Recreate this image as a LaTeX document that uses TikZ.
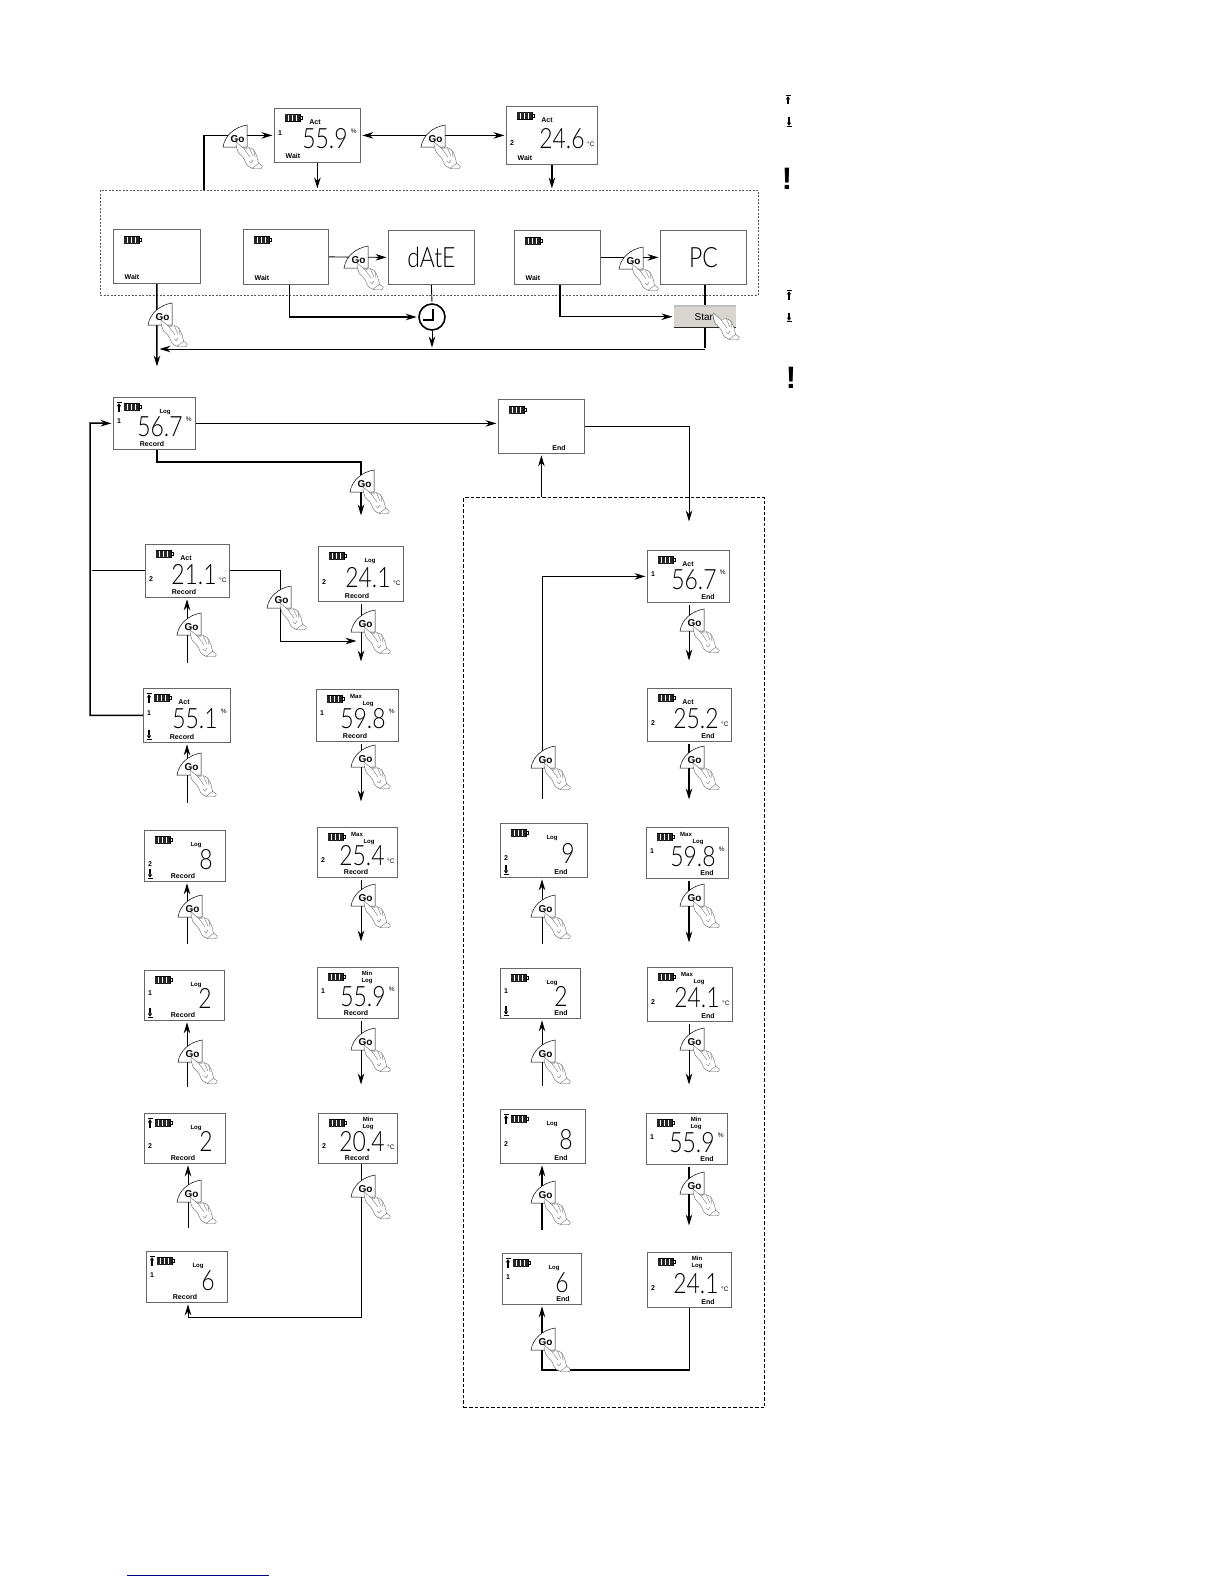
\documentclass[tikz,border=0pt]{standalone}
\usepackage{fontspec}
\setmainfont{Liberation Sans}
\newfontfamily\lcdfont[FakeStretch=0.82]{Lato Light}
\usetikzlibrary{arrows.meta, backgrounds, calc}

\definecolor{framegray}{gray}{0.35}
\definecolor{startgray}{RGB}{216,212,208}
\definecolor{linkblue}{RGB}{0,0,128}

\tikzset{
  lcdface/.style={draw=black!60, fill=white, line width=.8pt, anchor=north west, inner sep=0pt},
  lcdbig/.style={font=\lcdfont\fontsize{28}{28}\selectfont},
  lcdnum/.style={lcdbig, anchor=base east, inner sep=0pt},
  lcdchan/.style={font=\bfseries\fontsize{7}{8}\selectfont, inner sep=0pt},
  lcdunit/.style={font=\fontsize{6.5}{7}\selectfont, inner sep=0pt},
  lcdtag/.style={font=\bfseries\fontsize{7}{8}\selectfont, inner sep=0pt},
  lcdsmall/.style={font=\bfseries\fontsize{6}{7}\selectfont, inner sep=0pt},
  gotext/.style={font=\bfseries\fontsize{10}{11}\selectfont, inner sep=0pt},
  warntext/.style={font=\bfseries\fontsize{31}{31}\selectfont, inner sep=0pt},
  flow/.style={line width=.9pt, shorten >=1.5pt},
  flowbold/.style={line width=1.5pt, shorten >=1.5pt},
  batt/.pic={
    \draw[line width=.4pt] (0,-3.5) rectangle (15.5,3.5);
    \draw[line width=.4pt] (15.5,-1.5) rectangle (17,1.5);
    \foreach \k in {0,1,2,3}
      \fill[black!85] (.4+\k*3.8,-3.5) rectangle ++(2.9,7);
  },
  holdup/.pic={
    \draw[line width=.8pt] (-2.5,-4.5) -- (2.5,-4.5);
    \fill (0,-3.8) -- (2.2,-.6) -- (-2.2,-.6) -- cycle;
    \fill (-.8,-.6) rectangle (.8,4.5);
  },
  holddown/.pic={
    \draw[line width=.8pt] (-2.5,4.5) -- (2.5,4.5);
    \fill (0,3.8) -- (2.2,.6) -- (-2.2,.6) -- cycle;
    \fill (-.8,.6) rectangle (.8,-4.5);
  },
  hand/.pic={
    \draw[draw=black!65, fill=white, line width=.35pt]
      plot[smooth cycle, tension=.4] coordinates {(-11,-4.7) (-3.3,1.3) (2.3,.7) (6.7,3) (10,9.7)
        (11.7,16.3) (15,18.7) (14.3,21.3) (5,21.3) (0,18) (-3.3,11.3) (-9,4.7)};
    \draw[draw=black!65, line width=.3pt] (-3.3,1.3) -- (3,10) (2.3,.7) -- (6,9) (6.7,3) -- (8,10)
      (2,14) -- (4,16) -- (6,13) (11.7,16.3) -- (5,21.3);
  },
  gobtn/.pic={
    \draw[fill=white, line width=.5pt] (-24,0) .. controls (-22,-12) and (-12,-20) .. (0,-22) -- (0,0) -- cycle;
    \node[gotext] (-label) at (-9.5,-7.5) {Go};
    \pic at (0,0) {hand};
  },
}

\newcommand{\unitpct}[1]{\node[lcdunit] (#1-unit) at ($(#1.east)+(-7,-4)$) {\%};}
\newcommand{\unitdeg}[1]{\node[lcdunit] (#1-unit) at ($(#1.east)+(-7,9)$) {°C};}
\newcommand{\nounit}[1]{}
\newcommand{\modeWait}[1]{\node[lcdtag] (#1-mode) at ($(#1.south west)+(19,-7)$) {Wait};}
\newcommand{\modeRec}[1]{\node[lcdtag] (#1-mode) at ($(#1.south west)+(39,-5.5)$) {Record};}
\newcommand{\modeEnd}[1]{\node[lcdtag] (#1-mode) at ($(#1.south west)+(61,-5.5)$) {End};}
\newcommand{\topAct}[1]{\node[lcdtag] (#1-top) at ($(#1.north west)+(41,14.5)$) {Act};}
\newcommand{\topLog}[1]{\node[lcdsmall] (#1-top) at ($(#1.north west)+(52,15)$) {Log};}
\newcommand{\topMax}[1]{\node[lcdsmall] (#1-top) at ($(#1.north west)+(40,7)$) {Max};
  \node[lcdsmall] (#1-log) at ($(#1.north west)+(52,15)$) {Log};}
\newcommand{\topMin}[1]{\node[lcdsmall] (#1-top) at ($(#1.north west)+(50,6)$) {Min};
  \node[lcdsmall] (#1-log) at ($(#1.north west)+(50,14)$) {Log};}

% name, corner, width, height, channel, reading, unit, mode, top label
\newcommand{\lcd}[9]{%
  \node[lcdface, minimum width=#3pt, minimum height=#4pt] (#1) at (#2) {};
  \pic at ($(#1.north west)+(11,10)$) {batt};
  \ifnum#5=1 \def\chany{-2}\else\def\chany{8}\fi
  \node[lcdchan] (#1-chan) at ($(#1.west)+(6,\chany)$) {#5};
  \node[lcdnum] (#1-num) at ($(#1.east)+(-13,13.5)$) {#6};
  #7{#1}
  #8{#1}
  #9{#1}
}
\newcommand{\emptylcd}[5]{%
  \node[lcdface, minimum width=#3pt, minimum height=#4pt] (#1) at (#2) {};
  \pic at ($(#1.north west)+(11,11)$) {batt};
  #5{#1}
}
\newcommand{\holdtop}[1]{\pic at ($(#1.north west)+(6,10)$) {holdup};}
\newcommand{\holdbot}[1]{\pic at ($(#1.south west)+(6,-8)$) {holddown};}

\begin{document}
\begin{tikzpicture}[x=1pt, y=-1pt, >={Stealth[length=11pt,width=6.5pt]}]
  \useasboundingbox (0,0) rectangle (1224,1584);

  % waiting
  \lcd{rhwait}{274,108}{86}{54}{1}{55.9}{\unitpct}{\modeWait}{\topAct}
  \lcd{tempwait}{506,106}{91}{58}{2}{24.6}{\unitdeg}{\modeWait}{\topAct}
  \emptylcd{waita}{113,229}{87}{54}{\modeWait}
  \emptylcd{waitb}{243,229}{85}{55}{\modeWait}
  \emptylcd{waitc}{514,230}{86}{54}{\modeWait}
  \node[lcdface, lcdbig, minimum width=86pt, minimum height=54pt] (date) at (388,230) {dAtE};
  \node[lcdface, lcdbig, minimum width=86pt, minimum height=54pt] (pc) at (660,230) {PC};
  \node[circle, draw, fill=white, line width=1.6pt, minimum size=26pt, inner sep=0pt] (clock) at (432,317) {};
  \draw[line width=1.4pt] ($(clock.center)+(1,-8)$) -- ($(clock.center)+(1,3)$) -- ($(clock.center)+(-9,3)$);
  \node[fill=startgray, minimum width=62pt, minimum height=21pt, anchor=north west, inner sep=0pt,
    font=\fontsize{10}{11}\selectfont] (start) at (674,306) {Start};
  \draw[line width=1.2pt, black!85] (start.south west) -- (start.south east);
  \draw[line width=1.4pt, black!25] (start.north west) -- (start.north east);

  % recording, left side
  \lcd{logrh}{113,397}{82}{52}{1}{56.7}{\unitpct}{\modeRec}{\topLog}
  \lcd{acttemp}{145,544}{84}{53}{2}{21.1}{\unitdeg}{\modeRec}{\topAct}
  \lcd{logtemp}{318,546}{85}{55}{2}{24.1}{\unitdeg}{\modeRec}{\topLog}
  \lcd{actrh}{143,688}{87}{54}{1}{55.1}{\unitpct}{\modeRec}{\topAct}
  \lcd{maxrh}{316,689}{82}{52}{1}{59.8}{\unitpct}{\modeRec}{\topMax}
  \lcd{counta}{144,830}{81}{51}{2}{8}{\nounit}{\modeRec}{\topLog}
  \lcd{maxtemp}{317,827}{80}{50}{2}{25.4}{\unitdeg}{\modeRec}{\topMax}
  \lcd{countb}{144,970}{80}{50}{1}{2}{\nounit}{\modeRec}{\topLog}
  \lcd{minrh}{317,967}{81}{51}{1}{55.9}{\unitpct}{\modeRec}{\topMin}
  \lcd{countc}{144,1113}{81}{50}{2}{2}{\nounit}{\modeRec}{\topLog}
  \lcd{mintemp}{318,1113}{79}{50}{2}{20.4}{\unitdeg}{\modeRec}{\topMin}
  \lcd{countd}{146,1251}{81}{51}{1}{6}{\nounit}{\modeRec}{\topLog}

  % ended, right side
  \emptylcd{endbox}{498,399}{86}{54}{\modeEnd}
  \lcd{endrh}{647,550}{82}{52}{1}{56.7}{\unitpct}{\modeEnd}{\topAct}
  \lcd{endtemp}{647,688}{84}{53}{2}{25.2}{\unitdeg}{\modeEnd}{\topAct}
  \lcd{endmaxrh}{646,827}{82}{51}{1}{59.8}{\unitpct}{\modeEnd}{\topMax}
  \lcd{endcounta}{500,823}{87}{54}{2}{9}{\nounit}{\modeEnd}{\topLog}
  \lcd{endmaxtemp}{647,967}{85}{54}{2}{24.1}{\unitdeg}{\modeEnd}{\topMax}
  \lcd{endcountb}{500,968}{80}{50}{1}{2}{\nounit}{\modeEnd}{\topLog}
  \lcd{endminrh}{646,1113}{81}{51}{1}{55.9}{\unitpct}{\modeEnd}{\topMin}
  \lcd{endcountc}{500,1109}{85}{54}{2}{8}{\nounit}{\modeEnd}{\topLog}
  \lcd{endmintemp}{647,1252}{84}{55}{2}{24.1}{\unitdeg}{\modeEnd}{\topMin}
  \lcd{endcountd}{502,1253}{79}{51}{1}{6}{\nounit}{\modeEnd}{\topLog}

  \holdtop{logrh} \holdtop{actrh} \holdbot{actrh} \holdbot{counta} \holdbot{countb}
  \holdtop{countc} \holdtop{countd} \holdbot{endcounta} \holdbot{endcountb}
  \holdtop{endcountc} \holdtop{endcountd}

  % side marks
  \pic at (788,100) {holdup};
  \pic at (789,122) {holddown};
  \pic at (789,295) {holdup};
  \pic at (789,317) {holddown};
  \node[warntext] (warna) at (787,179) {!};
  \node[warntext] (warnb) at (791,378) {!};

  % buttons
  \foreach \gx/\gy [count=\i] in {247/147, 445/147, 172/325, 368/268, 643/269,
    374/492, 291/608, 375/632, 201/635, 201/775, 375/767, 202/917, 375/906, 202/1062, 375/1050,
    201/1202, 375/1197, 704/631, 704/768, 555/768, 555/917, 704/906, 555/1062, 704/1050,
    555/1203, 704/1194, 555/1350}
    \pic (go\i) at (\gx,\gy) {gobtn};
  \pic at (724,318) {hand};

  \begin{scope}[on background layer]
    \node[draw=framegray, dash pattern=on 2pt off 1.5pt, line width=.6pt, minimum width=658pt, minimum height=105pt,
      anchor=north west, inner sep=0pt] (waitframe) at (100,190) {};
    \node[draw, dash pattern=on 3.5pt off 2pt, line width=1.1pt, minimum width=301pt, minimum height=910pt,
      anchor=north west, inner sep=0pt] (endframe) at (463,497) {};

    \coordinate (logentry) at (157,368);
    \coordinate (busend) at (158,349);
    \coordinate (railtop) at (90,423);
    \coordinate (logturn) at (361,462);
    \coordinate (login) at (361,517);
    \coordinate (actend) at (358,641);
    \coordinate (endturn) at (689,523);
    \coordinate (endfoot) at (542,799);
    \coordinate (loopback) at (361,1317);
    \coordinate (loopend) at (542,1370);
    \coordinate (clockturn) at (289,317);

    \draw[flowbold, ->] (204,0 |- waitframe.north) |- (rhwait.west);
    \draw[flow, <->, shorten <=1.5pt] (rhwait.east) -- (tempwait.west);
    \draw[flowbold, ->] (rhwait.south) -- (rhwait.south |- waitframe.north);
    \draw[flowbold, ->] (tempwait.south) -- (tempwait.south |- waitframe.north);
    \draw[flowbold, ->] (waita.south) -- (logentry);
    \draw[flow] (clockturn |- waitb.south) -- (clockturn);
    \draw[flowbold, ->] (clockturn) -- (clock.west);
    \draw[flow, ->] (waitb.east) -- (date.west);
    \draw[flow] (date.south) -- (clock.north);
    \draw[flow, ->] (clock.south) -- (clock.south |- busend);
    \draw[flowbold] (start.north |- pc.south) -- (start.north);
    \draw[flowbold] (start.south) -- (start.south |- busend);
    \draw[flow, ->] (start.south |- busend) -- (busend);
    \draw[flowbold, ->] (560,0 |- waitc.south) |- (start.west);
    \draw[flow, ->] (waitc.east) -- (pc.west);

    \draw[flow, ->] (logrh.east) -- (logrh.east -| endbox.west);
    \draw[flow, ->] (endbox.east) -| (endturn);
    \draw[flow, ->] (endbox.south |- endframe.north) -- (endbox.south);
    \draw[flowbold, ->] (157,0 |- logrh.south) |- (logturn) -- (login);
    \draw[flow, ->] (acttemp.east) -- (acttemp.east -| 280,0) |- (actend);
    \draw[flowbold, ->] (actrh.west) -| (railtop) -- (logrh.west);
    \draw[flow] (acttemp.west) -- (acttemp.west -| railtop);
    \draw[flow, ->] (361,0 |- mintemp.south) |- (loopback) -| (188,0 |- countd.south);
    \draw[flowbold, ->] (endmintemp.south) |- (loopend) -- (loopend |- endcountd.south);
    \draw[flow, ->] (endfoot) |- (endrh.west);

    \foreach \nd/\x/\yf/\st in {acttemp/187/663/flow, actrh/187/803/flow, counta/187/944/flow,
      countb/187/1087/flow, countc/188/1228/flow, endcounta/542/944/flow, endcountb/542/1086/flow,
      endcountc/542/1230/flowbold} {
      \coordinate (\nd foot) at (\x,\yf);
      \draw[\st, ->] (\nd foot) -- (\nd foot |- \nd.south);
    }
    \foreach \nd/\x/\yt/\st in {logtemp/361/663/flow, maxrh/361/803/flow, maxtemp/361/943/flow,
      minrh/361/1086/flow, endrh/689/662/flow, endtemp/689/801/flowbold, endmaxrh/689/944/flowbold,
      endmaxtemp/689/1086/flow, endminrh/689/1227/flowbold} {
      \coordinate (\nd tip) at (\x,\yt);
      \draw[\st, ->, shorten <=2pt] (\nd tip |- \nd.south) -- (\nd tip);
    }
  \end{scope}

  \draw[linkblue, line width=1pt] (127,1575) -- (269,1575);
\end{tikzpicture}
\end{document}
